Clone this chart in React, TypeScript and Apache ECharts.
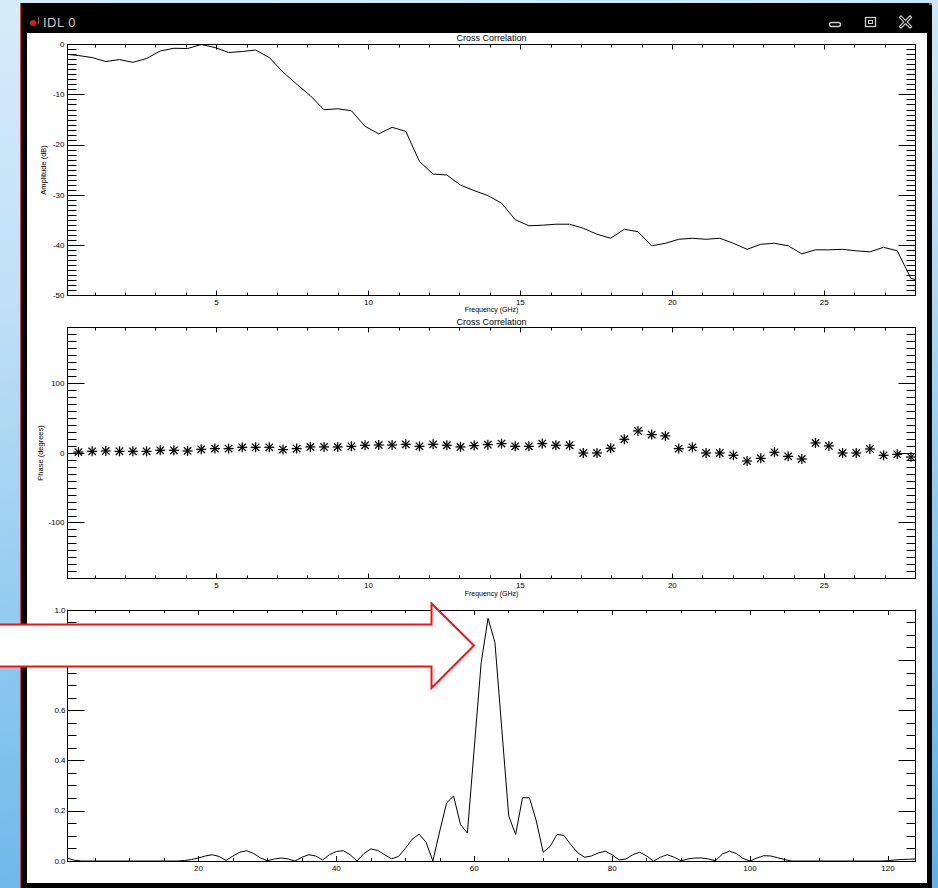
import React, { useEffect, useRef } from "react";
import * as echarts from "echarts";

// ---------- data ----------
// Top panel: cross-correlation amplitude (dB) vs frequency (GHz)
const freqAmp = [
  0.01,
  0.46, 0.91, 1.36, 1.81, 2.25, 2.7, 3.15, 3.6, 4.05, 4.5,
  4.95, 5.4, 5.85, 6.29, 6.74, 7.19, 7.64, 8.09, 8.54, 8.99,
  9.44, 9.89, 10.34, 10.78, 11.23, 11.68, 12.13, 12.58, 13.03, 13.48,
  13.93, 14.38, 14.83, 15.28, 15.72, 16.17, 16.62, 17.07, 17.52, 17.97,
  18.42, 18.87, 19.32, 19.77, 20.21, 20.66, 21.11, 21.56, 22.01, 22.46,
  22.91, 23.36, 23.81, 24.26, 24.71, 25.15, 25.6, 26.05, 26.5, 26.95,
  27.4, 27.85,
  28.3,
];
const amplitudeDb = [
  -1.9,
  -2.2, -2.6, -3.4, -3.0, -3.55, -2.8, -1.3, -0.75, -0.8, 0.0,
  -0.6, -1.6, -1.4, -1.1, -2.6, -5.5, -7.9, -10.2, -13.0, -12.8,
  -13.2, -16.3, -17.8, -16.5, -17.3, -23.3, -25.8, -26.0, -28.0, -29.1,
  -30.1, -31.6, -34.9, -36.1, -36.0, -35.8, -35.8, -36.6, -37.8, -38.6,
  -36.8, -37.3, -40.1, -39.6, -38.8, -38.6, -38.8, -38.6, -39.6, -40.8,
  -39.8, -39.6, -40.1, -41.7, -40.9, -40.9, -40.8, -41.1, -41.3, -40.4,
  -41.1, -46.6,
  -47.2,
];

// Middle panel: phase (degrees) vs frequency (GHz)
const freqPhase = [
  0.46, 0.91, 1.36, 1.81, 2.25, 2.7, 3.15, 3.6, 4.05, 4.5,
  4.95, 5.4, 5.85, 6.29, 6.74, 7.19, 7.64, 8.09, 8.54, 8.99,
  9.44, 9.89, 10.34, 10.78, 11.23, 11.68, 12.13, 12.58, 13.03, 13.48,
  13.93, 14.38, 14.83, 15.28, 15.72, 16.17, 16.62, 17.07, 17.52, 17.97,
  18.42, 18.87, 19.32, 19.77, 20.21, 20.66, 21.11, 21.56, 22.01, 22.46,
  22.91, 23.36, 23.81, 24.26, 24.71, 25.15, 25.6, 26.05, 26.5, 26.95,
  27.4, 27.85,
];
const phaseDeg = [
  1.4, 2.4, 2.9, 2.4, 2.4, 2.4, 3.9, 3.9, 2.9, 5.3,
  6.3, 6.3, 8.2, 8.2, 8.2, 4.9, 6.3, 8.7, 8.7, 8.7,
  9.6, 11.1, 11.5, 11.5, 12.5, 9.6, 12.5, 11.1, 8.7, 10.6,
  12.0, 13.5, 9.6, 9.6, 13.5, 11.1, 11.1, 0.0, 0.0, 6.8,
  19.7, 31.7, 26.4, 24.5, 6.3, 8.2, 0.0, 0.0, -3.3, -11.5,
  -7.7, 1.0, -4.8, -8.6, 14.4, 10.1, 0.0, 0.0, 5.8, -3.3,
  -1.9, -5.8,
];

// Bottom panel: normalised cross-correlation vs lag
const lag = [
  1, 2, 3, 17, 18, 19, 20, 21, 22, 23,
  24, 25, 26, 27, 28, 29, 30, 31, 32, 33,
  34, 35, 36, 37, 38, 39, 40, 41, 42, 43,
  44, 45, 46, 47, 48, 49, 50, 51, 52, 53,
  54, 55, 56, 57, 58, 59, 60, 61, 62, 63,
  64, 65, 66, 67, 68, 69, 70, 71, 72, 73,
  74, 75, 76, 77, 78, 79, 80, 81, 82, 83,
  84, 85, 86, 87, 88, 89, 90, 91, 92, 93,
  94, 95, 96, 97, 98, 99, 100, 101, 102, 103,
  104, 105, 106, 119, 120, 121, 122, 123, 124,
];
const xcorr = [
  0.011, 0.003, 0.0, 0.0, 0.002, 0.006, 0.012, 0.02, 0.025, 0.018,
  0.002, 0.02, 0.035, 0.041, 0.03, 0.012, 0.001, 0.008, 0.012, 0.008,
  0.0, 0.015, 0.025, 0.02, 0.004, 0.025, 0.038, 0.041, 0.025, 0.0,
  0.03, 0.048, 0.042, 0.025, 0.009, 0.018, 0.05, 0.087, 0.107, 0.075,
  0.0, 0.12, 0.232, 0.259, 0.146, 0.111, 0.45, 0.79, 0.967, 0.87,
  0.524, 0.179, 0.106, 0.252, 0.252, 0.159, 0.035, 0.058, 0.106, 0.102,
  0.065, 0.033, 0.015, 0.02, 0.032, 0.039, 0.025, 0.004, 0.008, 0.025,
  0.035, 0.02, 0.0, 0.015, 0.025, 0.015, 0.001, 0.008, 0.012, 0.012,
  0.008, 0.001, 0.028, 0.039, 0.03, 0.01, 0.0, 0.012, 0.021, 0.02,
  0.013, 0.006, 0.0, 0.0, 0.001, 0.004, 0.006, 0.007, 0.008,
];

const plotTitle = "Cross Correlation";
const freqTitle = "Frequency (GHz)";
const ampTitle = "Amplitude (dB)";
const phaseTitle = "Phase (degrees)";
const windowTitle = "IDL 0";

// ---------- styling helpers ----------
const FONT = "'Liberation Sans', Arial, sans-serif";
const BLACK = "#000";

const axisLine = { show: true, onZero: false, lineStyle: { color: BLACK, width: 1 } };

function xAxis(o: any) {
  return {
    type: "value",
    gridIndex: o.grid,
    position: o.position,
    min: o.min,
    max: o.max,
    minInterval: o.step,
    maxInterval: o.step,
    axisLine,
    axisTick: { show: true, inside: true, length: 5, lineStyle: { color: BLACK, width: 1 } },
    minorTick: { show: true, splitNumber: o.minor, length: 3, lineStyle: { color: BLACK, width: 1 } },
    splitLine: { show: false },
    minorSplitLine: { show: false },
    axisLabel: {
      show: o.labels,
      fontSize: 8,
      color: BLACK,
      fontFamily: FONT,
      margin: 3,
      showMinLabel: false,
      showMaxLabel: false,
    },
    name: o.name || "",
    nameLocation: "middle",
    nameGap: o.nameGap || 0,
    nameMoveOverlap: false,
    nameTextStyle: { fontSize: o.nameSize || 7, color: BLACK, fontFamily: FONT },
  };
}

function yAxis(o: any) {
  return {
    type: "value",
    gridIndex: o.grid,
    position: o.position,
    min: o.min,
    max: o.max,
    minInterval: o.step,
    maxInterval: o.step,
    axisLine,
    axisTick: { show: true, inside: true, length: 17, lineStyle: { color: BLACK, width: 1 } },
    minorTick: { show: true, splitNumber: o.minor, length: 9, lineStyle: { color: BLACK, width: 1 } },
    splitLine: { show: false },
    minorSplitLine: { show: false },
    axisLabel: {
      show: o.labels,
      fontSize: 8,
      color: BLACK,
      fontFamily: FONT,
      margin: o.margin ?? 3,
      showMinLabel: o.edgeLabels,
      showMaxLabel: o.edgeLabels,
      formatter: o.fmt,
    },
    name: o.name || "",
    nameLocation: "middle",
    nameGap: o.nameGap || 0,
    nameRotate: 90,
    nameMoveOverlap: false,
    nameTextStyle: { fontSize: 7.5, color: BLACK, fontFamily: FONT },
  };
}

function buildOption() {
  const grids = [
    { left: 67.5, top: 44.5, width: 848, height: 251 },
    { left: 67.5, top: 327.5, width: 848, height: 251 },
    { left: 67.5, top: 610, width: 848, height: 251 },
  ];

  const xAxes = [
    xAxis({ grid: 0, position: "bottom", min: 0.1, max: 28, step: 5, minor: 5, labels: true, name: freqTitle, nameGap: 10.5 }),
    xAxis({ grid: 0, position: "top", min: 0.1, max: 28, step: 5, minor: 5, labels: false, name: plotTitle, nameGap: 2.5, nameSize: 9 }),
    xAxis({ grid: 1, position: "bottom", min: 0.1, max: 28, step: 5, minor: 5, labels: true, name: freqTitle, nameGap: 11 }),
    xAxis({ grid: 1, position: "top", min: 0.1, max: 28, step: 5, minor: 5, labels: false, name: plotTitle, nameGap: 1.5, nameSize: 9 }),
    xAxis({ grid: 2, position: "bottom", min: 1, max: 124, step: 20, minor: 4, labels: true }),
    xAxis({ grid: 2, position: "top", min: 1, max: 124, step: 20, minor: 4, labels: false }),
  ];

  const yAxes = [
    yAxis({ grid: 0, position: "left", min: -50, max: 0, step: 10, minor: 10, labels: true, edgeLabels: true, name: ampTitle, nameGap: 20 }),
    yAxis({ grid: 0, position: "right", min: -50, max: 0, step: 10, minor: 10, labels: false, edgeLabels: true }),
    yAxis({ grid: 1, position: "left", min: -180, max: 180, step: 100, minor: 10, labels: true, edgeLabels: false, name: phaseTitle, nameGap: 23 }),
    yAxis({ grid: 1, position: "right", min: -180, max: 180, step: 100, minor: 10, labels: false, edgeLabels: false }),
    yAxis({ grid: 2, position: "left", min: 0, max: 1, step: 0.2, minor: 4, labels: true, edgeLabels: true, margin: 2, fmt: (v: number) => v.toFixed(1) }),
    yAxis({ grid: 2, position: "right", min: 0, max: 1, step: 0.2, minor: 4, labels: false, edgeLabels: true }),
  ];

  const ampData = freqAmp.map((f, i) => [f, amplitudeDb[i]]);
  const phaseData = freqPhase.map((f, i) => [f, phaseDeg[i]]);
  const corrData = lag.map((l, i) => [l, xcorr[i]]);

  const starStyle = { stroke: BLACK, lineWidth: 1.25 };

  return {
    animation: false,
    backgroundColor: "transparent",
    grid: grids,
    xAxis: xAxes,
    yAxis: yAxes,
    series: [
      {
        type: "line",
        xAxisIndex: 0,
        yAxisIndex: 0,
        data: ampData,
        showSymbol: false,
        symbol: "none",
        clip: true,
        lineStyle: { color: BLACK, width: 1 },
      },
      {
        type: "custom",
        coordinateSystem: "cartesian2d",
        xAxisIndex: 2,
        yAxisIndex: 2,
        data: phaseData,
        encode: { x: 0, y: 1 },
        renderItem: (_params: any, api: any) => {
          const p = api.coord([api.value(0), api.value(1)]);
          const r = 5;
          const d = 3.7;
          return {
            type: "group",
            children: [
              { type: "line", shape: { x1: p[0] - r, y1: p[1], x2: p[0] + r, y2: p[1] }, style: starStyle },
              { type: "line", shape: { x1: p[0], y1: p[1] - r, x2: p[0], y2: p[1] + r }, style: starStyle },
              { type: "line", shape: { x1: p[0] - d, y1: p[1] - d, x2: p[0] + d, y2: p[1] + d }, style: starStyle },
              { type: "line", shape: { x1: p[0] - d, y1: p[1] + d, x2: p[0] + d, y2: p[1] - d }, style: starStyle },
            ],
          };
        },
      },
      {
        type: "line",
        xAxisIndex: 4,
        yAxisIndex: 4,
        data: corrData,
        showSymbol: false,
        symbol: "none",
        clip: true,
        lineStyle: { color: BLACK, width: 1 },
      },
    ],
    graphic: [
      {
        type: "polygon",
        z: 100,
        shape: {
          points: [
            [-4, 624.5],
            [431.5, 624.5],
            [431.5, 603.5],
            [474, 645.5],
            [431.5, 688],
            [431.5, 666.5],
            [-4, 666.5],
          ],
        },
        style: { fill: "#ffffff", stroke: "#ff1010", lineWidth: 2 },
      },
    ],
  };
}

export default function App() {
  const ref = useRef<HTMLDivElement>(null);

  useEffect(() => {
    if (!ref.current) return;
    const chart = echarts.init(ref.current, null, { renderer: "svg" });
    chart.setOption(buildOption() as any);
    return () => chart.dispose();
  }, []);

  const btn = "#cfcfcf";

  return (
    <div
      style={{
        position: "absolute",
        left: 0,
        top: 0,
        width: 938,
        height: 888,
        overflow: "hidden",
        background: "linear-gradient(172deg, #d6ecfa 0%, #bfe0f7 30%, #8cc8f0 65%, #5eb0e8 100%)",
      }}
    >
      {/* IDL window frame */}
      <div style={{ position: "absolute", left: 20, top: 3, width: 912, height: 885, background: "#000" }} />
      <div style={{ position: "absolute", left: 20, top: 3, width: 1, height: 885, background: "#e03838" }} />
      <div style={{ position: "absolute", left: 929, top: 3, width: 3, height: 2, background: "#e03838" }} />
      <div style={{ position: "absolute", left: 27, top: 33, width: 900, height: 850, background: "#fff" }} />
      {/* title bar */}
      <div
        style={{
          position: "absolute",
          left: 30,
          top: 19.5,
          width: 6,
          height: 6,
          borderRadius: 3,
          background: "#e01818",
        }}
      />
      <div style={{ position: "absolute", left: 38, top: 17, width: 1, height: 7, background: "#b05050" }} />
      <div
        style={{
          position: "absolute",
          left: 43,
          top: 14,
          color: "#cfc5c5",
          fontFamily: FONT,
          fontSize: 13,
          lineHeight: "17px",
          letterSpacing: 0.5,
        }}
      >
        {windowTitle}
      </div>
      <svg style={{ position: "absolute", left: 820, top: 10, width: 100, height: 22 }} viewBox="0 0 100 22">
        <rect x={9.5} y={12.5} width={11} height={4} rx={2} ry={2} fill="none" stroke={btn} strokeWidth={1.3} />
        <rect x={45.5} y={7.5} width={10} height={9} fill="none" stroke={btn} strokeWidth={1.3} />
        <rect x={48.5} y={10.5} width={4} height={3} fill="none" stroke={btn} strokeWidth={1} />
        <g strokeLinecap="square">
          <line x1={81} y1={7.5} x2={90} y2={16.5} stroke={btn} strokeWidth={3.4} />
          <line x1={90} y1={7.5} x2={81} y2={16.5} stroke={btn} strokeWidth={3.4} />
          <line x1={81} y1={7.5} x2={90} y2={16.5} stroke="#000" strokeWidth={1.2} />
          <line x1={90} y1={7.5} x2={81} y2={16.5} stroke="#000" strokeWidth={1.2} />
        </g>
      </svg>
      {/* chart */}
      <div ref={ref} style={{ position: "absolute", left: 0, top: 0, width: 938, height: 888 }} />
    </div>
  );
}
